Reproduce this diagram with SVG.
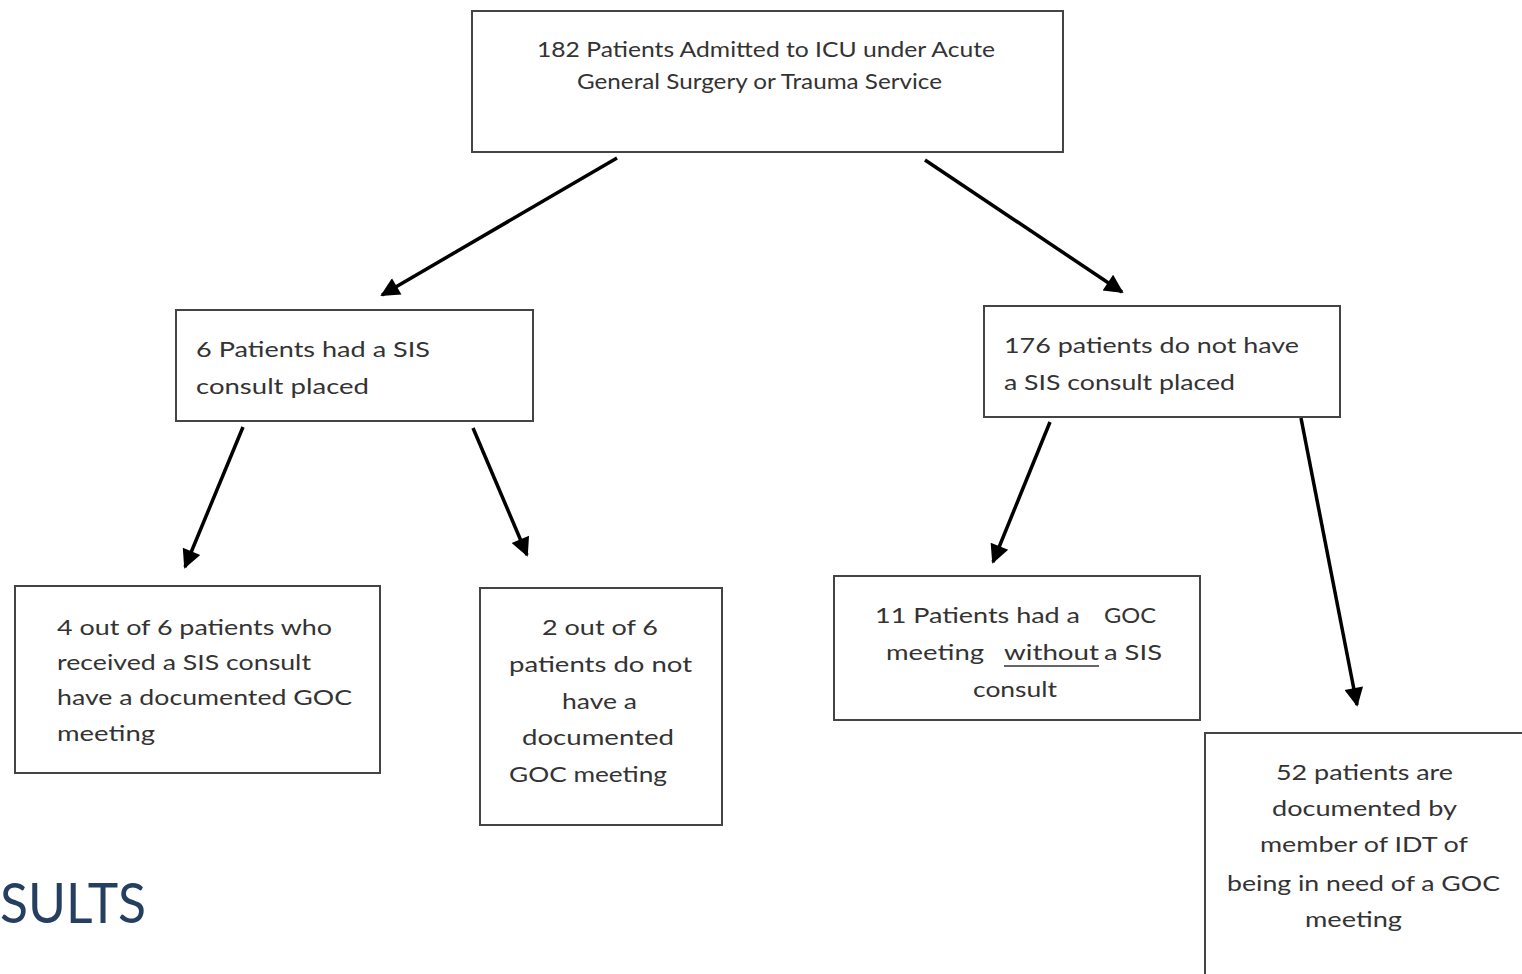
<svg xmlns="http://www.w3.org/2000/svg" width="1522" height="974" viewBox="0 0 1522 974">
<defs>
<marker id="ah" viewBox="0 0 10 10" refX="9" refY="5" markerWidth="6.2" markerHeight="5.4" markerUnits="strokeWidth" orient="auto">
<path d="M0,0 L10,5 L0,10 z" fill="#000"/>
</marker>
<style>
.box{fill:#fff;stroke:#444;stroke-width:2}
.t{font-family:Lato,"Liberation Sans",sans-serif;fill:#333;font-size:21px}
.arr{stroke:#000;stroke-width:3.5;fill:none;marker-end:url(#ah)}
</style>
</defs>
<rect width="1522" height="974" fill="#fff"/>
<g id="connectors">
<line class="arr" x1="617" y1="158" x2="382" y2="295"/>
<line class="arr" x1="925" y1="160" x2="1122" y2="292"/>
<line class="arr" x1="243" y1="427" x2="185" y2="567"/>
<line class="arr" x1="473" y1="428" x2="527" y2="555"/>
<line class="arr" x1="1050" y1="422" x2="993" y2="562"/>
<line class="arr" x1="1301" y1="418" x2="1357" y2="705"/>
</g>
<g id="n1">
<rect class="box" x="472" y="11" width="591" height="141"/>
<text class="t" x="537" y="57" font-size="20" textLength="458" lengthAdjust="spacingAndGlyphs">182 Patients  Admitted to ICU  under  Acute</text>
<text class="t" x="577" y="89" font-size="20" textLength="365" lengthAdjust="spacingAndGlyphs">General Surgery or Trauma Service</text>
</g>
<g id="n2">
<rect class="box" x="176" y="310" width="357" height="111"/>
<text class="t" x="196" y="357" font-size="22" textLength="234" lengthAdjust="spacingAndGlyphs">6 Patients had a SIS</text>
<text class="t" x="196" y="394" font-size="22" textLength="173" lengthAdjust="spacingAndGlyphs">consult placed</text>
</g>
<g id="n3">
<rect class="box" x="984" y="306" width="356" height="111"/>
<text class="t" x="1004" y="353" font-size="22" textLength="295" lengthAdjust="spacingAndGlyphs">176 patients do not have</text>
<text class="t" x="1004" y="390" font-size="22" textLength="231" lengthAdjust="spacingAndGlyphs">a SIS consult placed</text>
</g>
<g id="n4">
<rect class="box" x="15" y="586" width="365" height="187"/>
<text class="t" x="57" y="635" font-size="22" textLength="275" lengthAdjust="spacingAndGlyphs">4 out of 6 patients who</text>
<text class="t" x="57" y="670" font-size="22" textLength="254" lengthAdjust="spacingAndGlyphs">received  a SIS consult</text>
<text class="t" x="57" y="705" font-size="22" textLength="295" lengthAdjust="spacingAndGlyphs">have a documented GOC</text>
<text class="t" x="57" y="741" font-size="22" textLength="98" lengthAdjust="spacingAndGlyphs">meeting</text>
</g>
<g id="n5">
<rect class="box" x="480" y="588" width="242" height="237"/>
<text class="t" x="542" y="635" font-size="22" textLength="116" lengthAdjust="spacingAndGlyphs">2 out of 6</text>
<text class="t" x="509" y="672" font-size="22" textLength="183" lengthAdjust="spacingAndGlyphs">patients  do not</text>
<text class="t" x="562" y="709" font-size="22" textLength="75" lengthAdjust="spacingAndGlyphs">have a</text>
<text class="t" x="522" y="745" font-size="22" textLength="152" lengthAdjust="spacingAndGlyphs">documented</text>
<text class="t" x="509" y="782" font-size="22" textLength="158" lengthAdjust="spacingAndGlyphs">GOC meeting</text>
</g>
<g id="n6">
<rect class="box" x="834" y="576" width="366" height="144"/>
<text class="t" x="875" y="623" font-size="22" textLength="205" lengthAdjust="spacingAndGlyphs">11 Patients had a</text>
<text class="t" x="1104" y="623" font-size="22" textLength="52" lengthAdjust="spacingAndGlyphs">GOC</text>
<text class="t" x="886" y="660" font-size="22" textLength="98" lengthAdjust="spacingAndGlyphs">meeting</text>
<text class="t" x="1004" y="660" font-size="22" textLength="95" lengthAdjust="spacingAndGlyphs">without</text>
<text class="t" x="1104" y="660" font-size="22" textLength="58" lengthAdjust="spacingAndGlyphs">a SIS</text>
<line x1="1004" y1="666" x2="1099" y2="666" stroke="#333" stroke-width="1.6"/>
<text class="t" x="973" y="697" font-size="22" textLength="84" lengthAdjust="spacingAndGlyphs">consult</text>
</g>
<g id="n7">
<rect class="box" x="1205" y="733" width="330" height="260"/>
<text class="t" x="1276" y="780" font-size="22" textLength="177" lengthAdjust="spacingAndGlyphs">52 patients are</text>
<text class="t" x="1272" y="816" font-size="22" textLength="185" lengthAdjust="spacingAndGlyphs">documented by</text>
<text class="t" x="1260" y="852" font-size="22" textLength="208" lengthAdjust="spacingAndGlyphs">member of IDT of</text>
<text class="t" x="1227" y="891" font-size="22" textLength="273" lengthAdjust="spacingAndGlyphs">being in need of a GOC</text>
<text class="t" x="1305" y="927" font-size="22" textLength="97" lengthAdjust="spacingAndGlyphs">meeting</text>
</g>
<text x="0" y="923" font-family="Lato,'Liberation Sans',sans-serif" font-size="56" fill="#243f60" textLength="146" lengthAdjust="spacingAndGlyphs">SULTS</text>
</svg>
